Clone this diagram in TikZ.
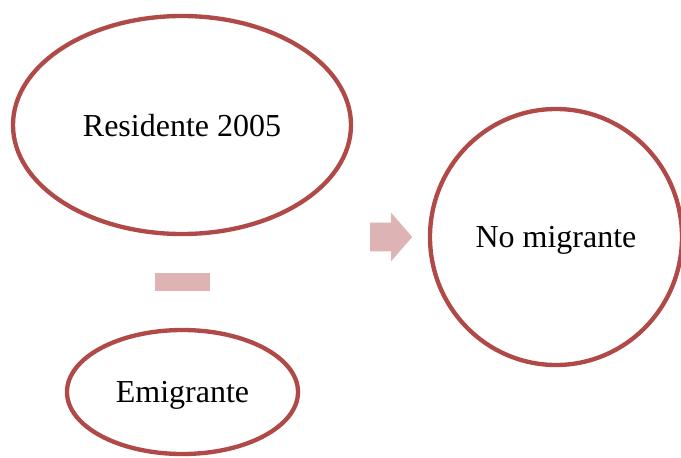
\documentclass[tikz,border=0pt]{standalone}
\usepackage{fontspec}
\setmainfont{Liberation Serif}
\usepackage{tikz}
\usetikzlibrary{shapes.geometric,shapes.arrows}

\definecolor{ringred}{RGB}{176,74,72}
\definecolor{signpink}{RGB}{221,179,179}

\tikzset{
  ring/.style={draw=ringred, line width=3.25pt, ellipse, inner sep=0pt, text depth=0pt},
  signbox/.style={fill=signpink, draw=none, inner sep=0pt}
}

\begin{document}
\begin{tikzpicture}[x=0.75pt,y=0.75pt,yscale=-1,xscale=1]
\useasboundingbox (0,0) rectangle (681,457);
\clip (0,0) rectangle (681,457);
\fontsize{24}{28}\selectfont

%Ellipse [id:resid] 
\node [ring, minimum width=253.5pt, minimum height=163.5pt] (resid) at (182,125) {Residente 2005};
%Ellipse [id:emig] 
\node [ring, minimum width=173.25pt, minimum height=93pt] (emig) at (182.5,392) {Emigrante};
%Ellipse [id:nomig] 
\node [ring, minimum width=189pt, minimum height=192pt] (nomig) at (556,237) {No migrante};

%Minus sign [id:minus] 
\node [signbox, rectangle, minimum width=41.25pt, minimum height=13.5pt] (minus) at (182.5,282) {};
%Arrow [id:equals] 
\node [signbox, single arrow, inner xsep=0pt, inner ysep=10.5pt, minimum height=31.5pt, single arrow head extend=7.5pt, single arrow tip angle=98] (equals) at (385,237) {};

\end{tikzpicture}
\end{document}
